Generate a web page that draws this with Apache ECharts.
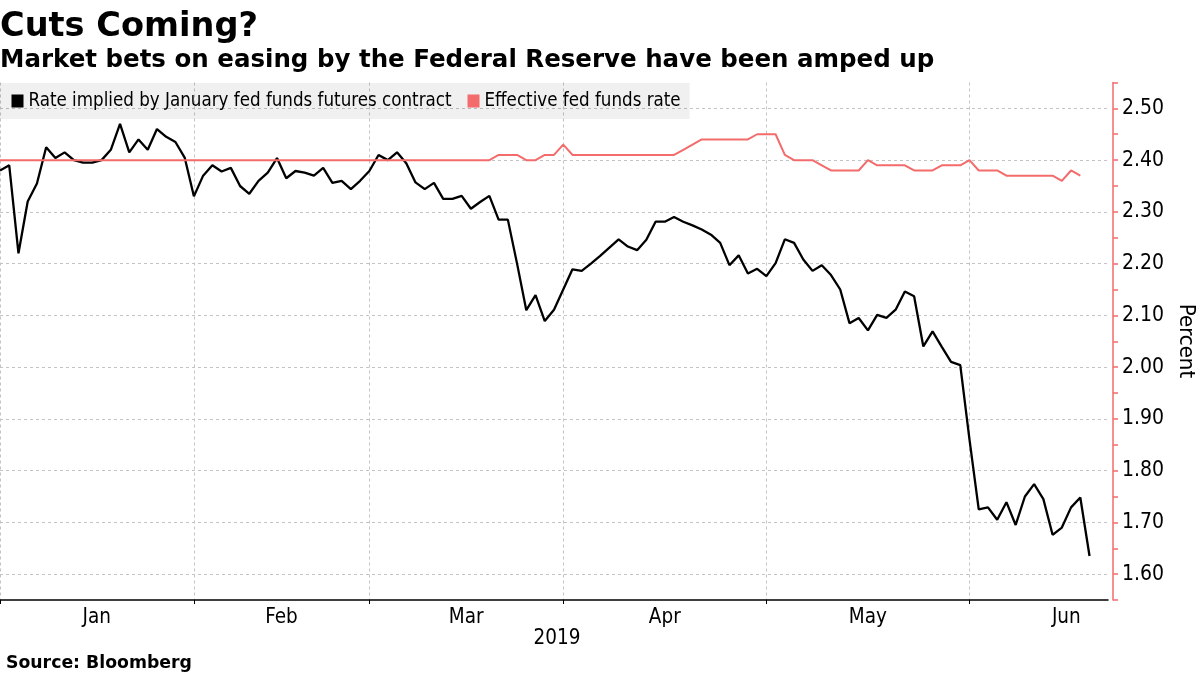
<!DOCTYPE html>
<html>
<head>
<meta charset="utf-8">
<script src="https://cdn.jsdelivr.net/npm/echarts@6/dist/echarts.min.js"></script>
<style>
html,body{margin:0;padding:0;background:#fff;}
#chart{width:1200px;height:675px;}
</style>
</head>
<body>
<div id="chart"></div>
<script>
// Trading days (category axis)
const dates = [
 '2019-01-02','2019-01-03','2019-01-04','2019-01-07','2019-01-08','2019-01-09','2019-01-10','2019-01-11','2019-01-14','2019-01-15',
 '2019-01-16','2019-01-17','2019-01-18','2019-01-22','2019-01-23','2019-01-24','2019-01-25','2019-01-28','2019-01-29','2019-01-30',
 '2019-01-31',
 '2019-02-01','2019-02-04','2019-02-05','2019-02-06','2019-02-07','2019-02-08','2019-02-11','2019-02-12','2019-02-13','2019-02-14',
 '2019-02-15','2019-02-19','2019-02-20','2019-02-21','2019-02-22','2019-02-25','2019-02-26','2019-02-27','2019-02-28',
 '2019-03-01','2019-03-04','2019-03-05','2019-03-06','2019-03-07','2019-03-08','2019-03-11','2019-03-12','2019-03-13','2019-03-14',
 '2019-03-15','2019-03-18','2019-03-19','2019-03-20','2019-03-21','2019-03-22','2019-03-25','2019-03-26','2019-03-27','2019-03-28',
 '2019-03-29',
 '2019-04-01','2019-04-02','2019-04-03','2019-04-04','2019-04-05','2019-04-08','2019-04-09','2019-04-10','2019-04-11','2019-04-12',
 '2019-04-15','2019-04-16','2019-04-17','2019-04-18','2019-04-19','2019-04-22','2019-04-23','2019-04-24','2019-04-25','2019-04-26',
 '2019-04-29','2019-04-30',
 '2019-05-01','2019-05-02','2019-05-03','2019-05-06','2019-05-07','2019-05-08','2019-05-09','2019-05-10','2019-05-13','2019-05-14',
 '2019-05-15','2019-05-16','2019-05-17','2019-05-20','2019-05-21','2019-05-22','2019-05-23','2019-05-24','2019-05-28','2019-05-29',
 '2019-05-30','2019-05-31',
 '2019-06-03','2019-06-04','2019-06-05','2019-06-06','2019-06-07','2019-06-10','2019-06-11','2019-06-12','2019-06-13','2019-06-14',
 '2019-06-17','2019-06-18','2019-06-19','2019-06-20','2019-06-21','2019-06-24'
];

// Rate implied by January fed funds futures contract (%)
const futures = [
 2.38,2.39,2.22,2.32,2.355,2.425,2.404,2.415,2.40,2.395,
 2.395,2.40,2.42,2.47,2.415,2.44,2.42,2.46,2.445,2.435,
 2.405,
 2.33,2.37,2.39,2.378,2.385,2.35,2.335,2.36,2.376,2.404,
 2.365,2.379,2.376,2.37,2.385,2.356,2.36,2.344,2.36,
 2.379,2.41,2.40,2.415,2.394,2.357,2.344,2.356,2.325,2.325,
 2.331,2.306,2.319,2.331,2.285,2.285,2.20,2.11,2.139,2.089,
 2.111,
 2.15,2.189,2.186,2.20,2.215,2.231,2.247,2.233,2.226,2.246,
 2.281,2.281,2.29,2.281,2.274,2.266,2.256,2.24,2.197,2.216,
 2.181,2.19,
 2.176,2.201,2.247,2.24,2.208,2.186,2.197,2.178,2.15,2.085,
 2.095,2.071,2.101,2.095,2.111,2.146,2.137,2.04,2.069,2.039,
 2.01,2.004,
 1.86,1.725,1.729,1.705,1.739,1.695,1.75,1.774,1.745,1.676,
 1.69,1.729,1.748,1.635,null,null
];

// Effective fed funds rate (%)
const effr = [
 2.40,2.40,2.40,2.40,2.40,2.40,2.40,2.40,2.40,2.40,
 2.40,2.40,2.40,2.40,2.40,2.40,2.40,2.40,2.40,2.40,
 2.40,
 2.40,2.40,2.40,2.40,2.40,2.40,2.40,2.40,2.40,2.40,
 2.40,2.40,2.40,2.40,2.40,2.40,2.40,2.40,2.40,
 2.40,2.40,2.40,2.40,2.40,2.40,2.40,2.40,2.40,2.40,
 2.40,2.40,2.40,2.40,2.41,2.41,2.41,2.40,2.40,2.41,
 2.41,
 2.43,2.41,2.41,2.41,2.41,2.41,2.41,2.41,2.41,2.41,
 2.41,2.41,2.41,2.42,2.43,2.44,2.44,2.44,2.44,2.44,
 2.44,2.45,
 2.45,2.45,2.41,2.40,2.40,2.40,2.39,2.38,2.38,2.38,
 2.38,2.40,2.39,2.39,2.39,2.39,2.38,2.38,2.38,2.39,
 2.39,2.39,
 2.40,2.38,2.38,2.38,2.37,2.37,2.37,2.37,2.37,2.37,
 2.36,2.38,2.37,null,null,null
];

const seriesNames = ['Rate implied by January fed funds futures contract', 'Effective fed funds rate'];
const monthNames = ['Jan','Feb','Mar','Apr','May','Jun','Jul','Aug','Sep','Oct','Nov','Dec'];
const yTickLabels = ['1.60','1.70','1.80','1.90','2.00','2.10','2.20','2.30','2.40','2.50'];

const FONT = "'DejaVu Sans Condensed', 'DejaVu Sans', sans-serif";
const BOLD_FONT = "'DejaVu Sans', sans-serif";
const RED = '#f36b6b';

// month boundaries (first trading day of each month) and label positions
const monthStart = dates.map((d, i) => i === 0 || d.slice(5, 7) !== dates[i - 1].slice(5, 7));
const starts = [];
monthStart.forEach((s, i) => { if (s) starts.push(i); });
const labelAt = {};
starts.forEach((s, k) => {
  const e = k + 1 < starts.length ? starts[k + 1] : s + 21;
  const mid = (s + e) / 2;
  labelAt[Math.floor(mid)] = {name: monthNames[parseInt(dates[s].slice(5, 7), 10) - 1], half: mid % 1 !== 0};
});

const chart = echarts.init(document.getElementById('chart'), null, {renderer: 'canvas'});
chart.setOption({
  animation: false,
  backgroundColor: '#ffffff',
  grid: {left: 0, right: 92, top: 82.5, bottom: 75, containLabel: false},
  legend: {
    data: seriesNames,
    left: 0, top: 83,
    padding: [8.5, 9, 8.5, 11.5],
    itemGap: 16,
    itemWidth: 12, itemHeight: 13,
    icon: 'rect',
    backgroundColor: 'rgba(0,0,0,0.06)',
    textStyle: {fontFamily: FONT, fontSize: 18.6, color: '#000'}
  },
  xAxis: {
    type: 'category',
    data: dates,
    boundaryGap: false,
    axisLine: {show: true, lineStyle: {color: '#000', width: 1.5}},
    axisTick: {show: true, length: 4, interval: (i) => monthStart[i], lineStyle: {color: '#000'}},
    axisLabel: {
      show: true,
      interval: (i) => labelAt[i] !== undefined,
      formatter: (v, i) => {
        const m = labelAt[i];
        if (!m) return '';
        return m.half ? '{h|' + m.name + '}' : m.name;
      },
      rich: {h: {fontFamily: FONT, fontSize: 20.5, color: '#000', padding: [0, 0, 0, 9]}},
      fontFamily: FONT, fontSize: 20.5, color: '#000', margin: 7
    },
    splitLine: {show: true, interval: (i) => monthStart[i], lineStyle: {color: '#c4c4c4', type: [3, 3], width: 1}}
  },
  yAxis: [
    {
      type: 'value',
      position: 'right',
      offset: 5,
      min: 1.55, max: 2.55, interval: 0.05,
      axisLine: {show: true, lineStyle: {color: RED, width: 1.5}},
      axisTick: {show: true, length: 5, lineStyle: {color: RED, width: 1.5}},
      axisLabel: {
        show: true,
        formatter: (v) => {
          const s = v.toFixed(2);
          return yTickLabels.indexOf(s) >= 0 ? s : '';
        },
        fontFamily: FONT, fontSize: 21, color: '#000', margin: 9
      },
      splitLine: {show: false}
    },
    {
      type: 'value',
      position: 'right',
      min: 1.55, max: 2.55, splitNumber: 10,
      axisLine: {show: false},
      axisTick: {show: false},
      axisLabel: {show: false},
      splitLine: {show: true, showMinLine: false, showMaxLine: false, lineStyle: {color: '#c4c4c4', type: [3, 3], width: 1}}
    }
  ],
  series: [
    {
      name: seriesNames[0],
      type: 'line',
      data: futures,
      yAxisIndex: 0,
      showSymbol: false,
      symbol: 'none',
      itemStyle: {color: '#000'},
      lineStyle: {color: '#000', width: 2.3},
      z: 3
    },
    {
      name: seriesNames[1],
      type: 'line',
      data: effr,
      yAxisIndex: 0,
      showSymbol: false,
      symbol: 'none',
      itemStyle: {color: RED},
      lineStyle: {color: RED, width: 2},
      z: 4
    }
  ],
  graphic: [
    {type: 'text', x: 0, y: 10, style: {text: 'Cuts Coming?', font: "bold 33.6px " + BOLD_FONT, fill: '#000', verticalAlign: 'top'}},
    {type: 'text', x: 0, y: 48, style: {text: 'Market bets on easing by the Federal Reserve have been amped up', font: "bold 24.5px " + BOLD_FONT, fill: '#000', verticalAlign: 'top'}},
    {type: 'text', x: 6, y: 655, style: {text: 'Source: Bloomberg', font: "bold 17.3px " + BOLD_FONT, fill: '#000', verticalAlign: 'top'}},
    {type: 'text', x: 557, y: 628, style: {text: '2019', font: "20.5px " + FONT, fill: '#000', align: 'center', verticalAlign: 'top'}},
    {type: 'text', x: 1186, y: 341, rotation: -Math.PI / 2, style: {text: 'Percent', font: "22px " + FONT, fill: '#000', align: 'center', verticalAlign: 'middle'}}
  ]
});
</script>
</body>
</html>
